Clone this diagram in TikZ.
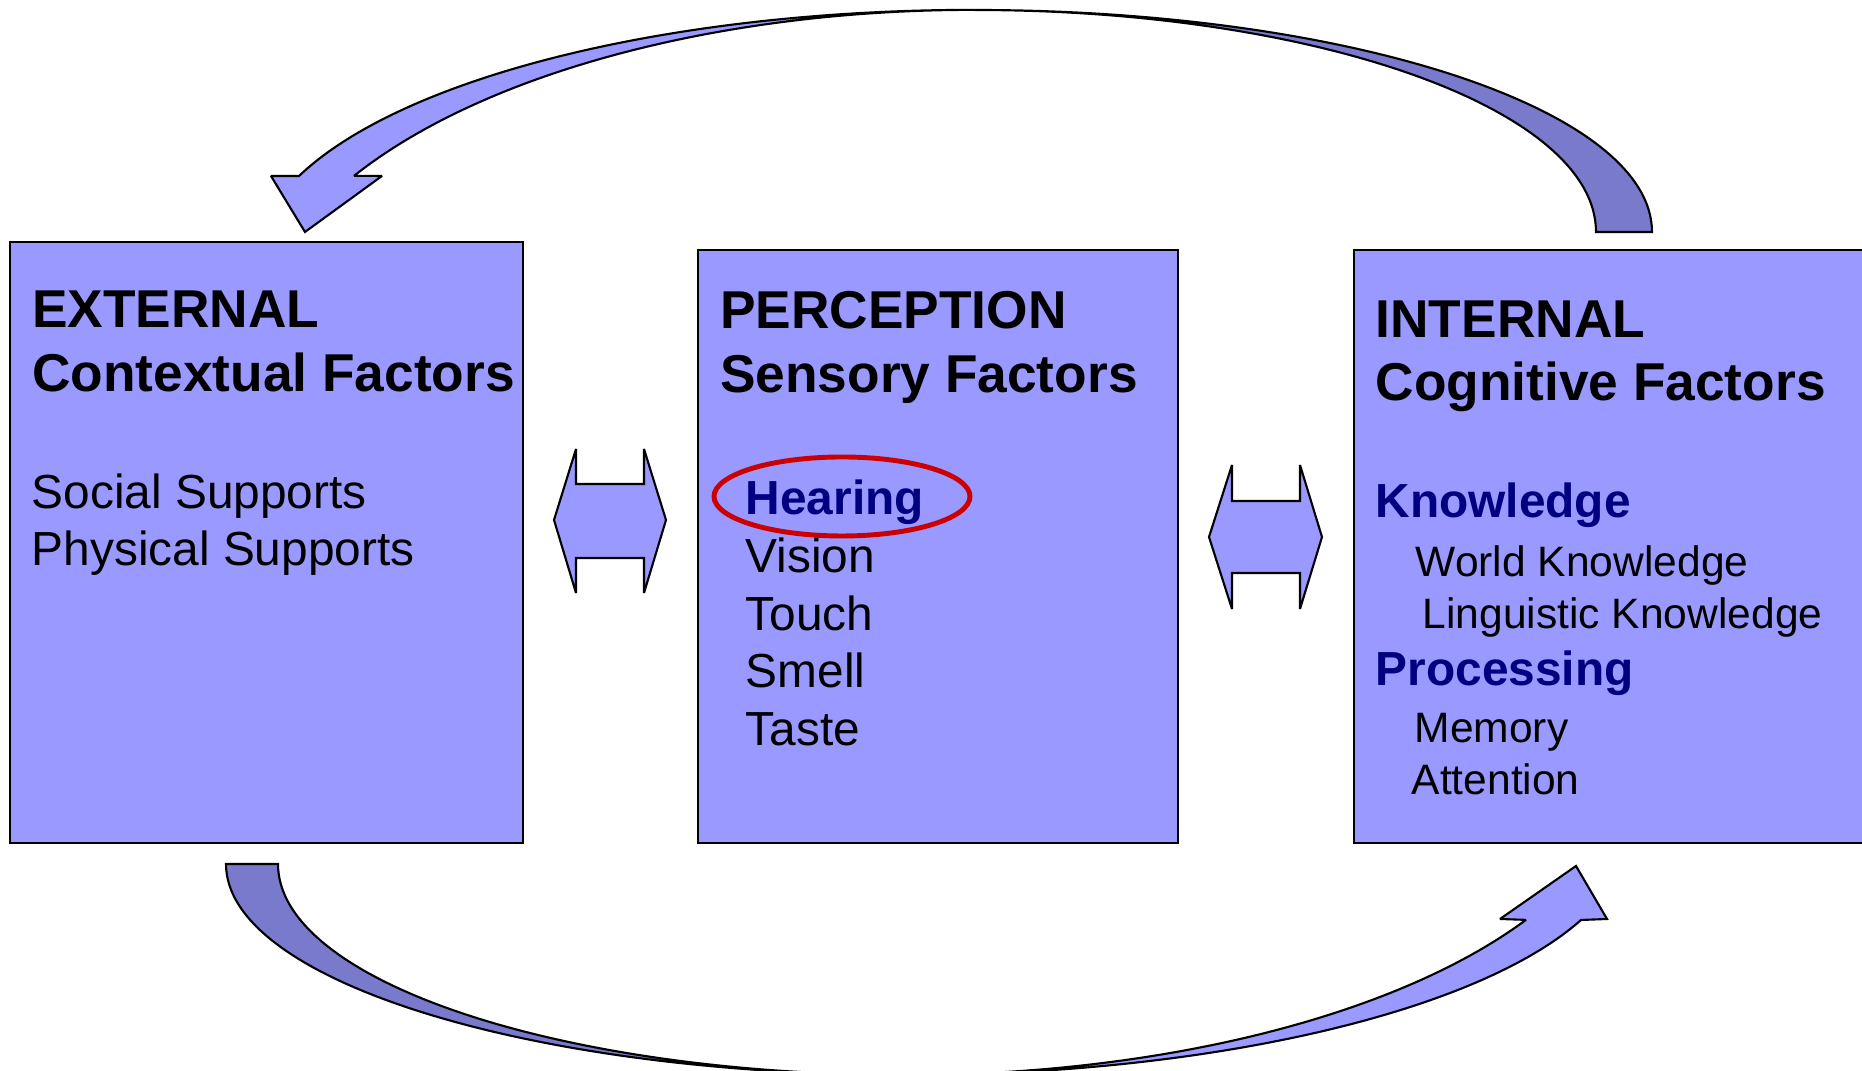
\documentclass[tikz,border=0pt]{standalone}
\usepackage{fontspec}
\setmainfont{Liberation Sans}
\usepackage{tikz}

\definecolor{boxblue}{RGB}{153,153,255}
\definecolor{backblue}{RGB}{122,122,204}
\definecolor{headnavy}{RGB}{0,0,128}
\definecolor{ringred}{RGB}{204,0,0}

\tikzset{
  factorbox/.style={draw=black,fill=boxblue,line width=0.6pt,inner sep=0pt,anchor=north west},
  blockarrow/.style={draw=black,fill=boxblue,line width=0.6pt,miter limit=2},
  backarrow/.style={draw=black,fill=backblue,line width=0.6pt,miter limit=2},
  boxtitle/.style={anchor=base west,inner sep=0pt,font=\fontsize{15.15}{18}\selectfont\bfseries},
  subhead/.style={anchor=base west,inner sep=0pt,text=headnavy,font=\fontsize{13.6}{16}\selectfont\bfseries},
  senseitem/.style={anchor=base west,inner sep=0pt,font=\fontsize{13.6}{16}\selectfont},
  cogitem/.style={anchor=base west,inner sep=0pt,font=\fontsize{12.1}{14}\selectfont}
}

\begin{document}
\begin{tikzpicture}[x=0.01cm,y=-0.01cm]
  \useasboundingbox (0,0) rectangle (1862,1071);
  \clip (0,0) rectangle (1862,1071);
  \node[factorbox,minimum width=5.13cm,minimum height=6.01cm] (external) at (9,241) {};
  \node[factorbox,minimum width=4.80cm,minimum height=5.93cm] (perception) at (697,249) {};
  \node[factorbox,minimum width=5.30cm,minimum height=5.93cm] (internal) at (1353,249) {};
  \node[boxtitle] (exttitle) at (31.5,328) {EXTERNAL};
  \node[boxtitle] (extsub) at (31.5,392) {Contextual Factors};
  \node[senseitem] (social) at (31,509) {Social Supports};
  \node[senseitem] (physical) at (31,566) {Physical Supports};
  \node[boxtitle] (perctitle) at (719.5,329) {PERCEPTION};
  \node[boxtitle] (percsub) at (719.5,393) {Sensory Factors};
  \node[subhead] (hearing) at (745,515) {Hearing};
  \node[senseitem] (vision) at (745,573) {Vision};
  \node[senseitem] (touch) at (745,631) {Touch};
  \node[senseitem] (smell) at (745,688) {Smell};
  \node[senseitem] (taste) at (745,746) {Taste};
  \node[boxtitle] (inttitle) at (1375,338) {INTERNAL};
  \node[boxtitle] (intsub) at (1375,401) {Cognitive Factors};
  \node[subhead] (knowledge) at (1375,518) {Knowledge};
  \node[cogitem] (world) at (1415,577) {World Knowledge};
  \node[cogitem] (linguistic) at (1422,629) {Linguistic Knowledge};
  \node[subhead] (processing) at (1375,686) {Processing};
  \node[cogitem] (memory) at (1414,743) {Memory};
  \node[cogitem] (attention) at (1411,795) {Attention};
  \draw[ringred,line width=1.4pt] (842,496.5) ellipse [x radius=128, y radius=39.5];
  \draw[blockarrow] (554,520) -- (576,449) -- (576,484) -- (644,484) -- (644,449) -- (666,520) -- (644,593) -- (644,558) -- (576,558) -- (576,593) -- cycle;
  \draw[blockarrow] (1209,537) -- (1232,465) -- (1232,501) -- (1300,501) -- (1300,465) -- (1322,537) -- (1300,609) -- (1300,573) -- (1232,573) -- (1232,609) -- cycle;
  % top arc, internal back to external
  \draw[backarrow] (974,10) arc[start angle=270, end angle=360, x radius=678, y radius=222] -- (1596,232) arc[start angle=0, end angle=-90, x radius=622, y radius=222] -- cycle;
  \draw[blockarrow] (299,176) arc[start angle=200.4, end angle=270, x radius=720, y radius=255] arc[start angle=270, end angle=210.6, x radius=720, y radius=338] -- (382,176) -- (305,232) -- (271,176) -- cycle;
  % bottom arc, external on to internal
  \draw[backarrow] (906,1075) arc[start angle=90, end angle=180, x radius=680, y radius=211] -- (278,864) arc[start angle=180, end angle=90, x radius=628, y radius=211] -- cycle;
  \draw[blockarrow] (1581,920) arc[start angle=20.4, end angle=90, x radius=720, y radius=238] arc[start angle=90, end angle=30.6, x radius=720, y radius=316] -- (1500,919) -- (1576,866) -- (1607,919) -- cycle;
\end{tikzpicture}
\end{document}
